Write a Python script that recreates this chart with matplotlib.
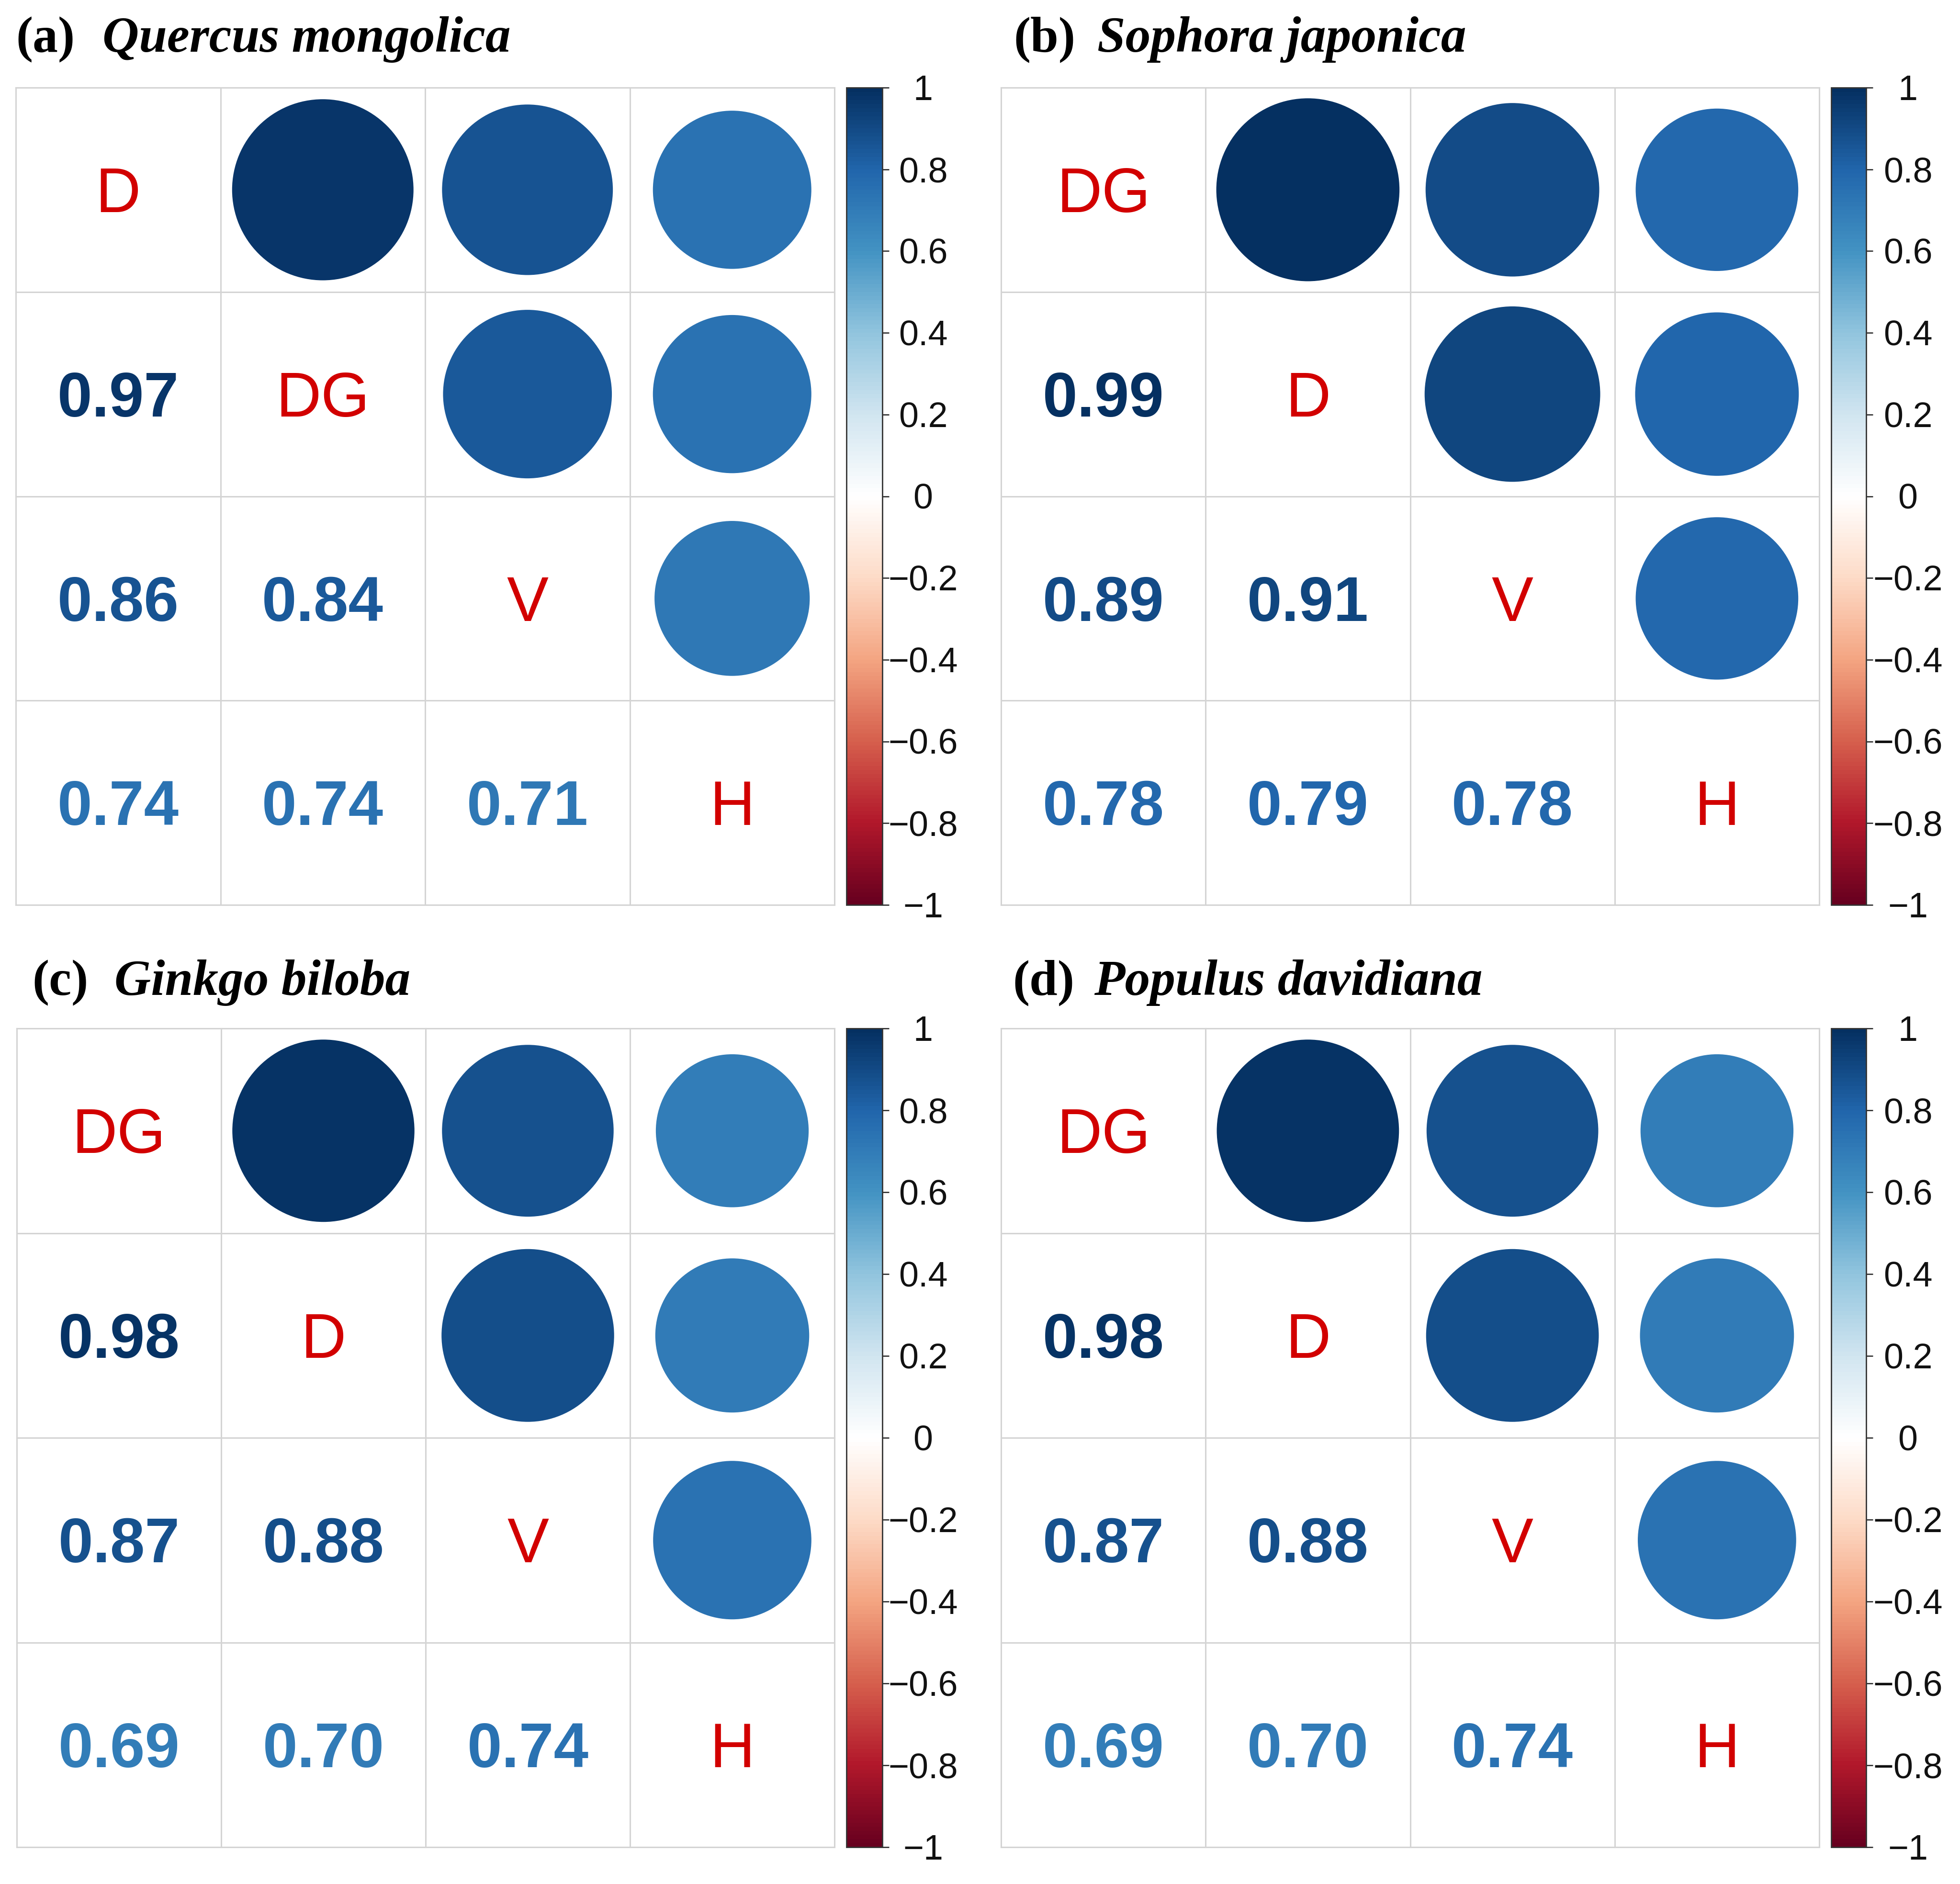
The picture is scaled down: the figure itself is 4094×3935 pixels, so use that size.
import numpy as np
import matplotlib
matplotlib.use('Agg')
import matplotlib.pyplot as plt
import matplotlib.transforms as mtransforms
from matplotlib.colors import LinearSegmentedColormap, Normalize
from matplotlib.cm import ScalarMappable
from matplotlib.patches import Circle


# panel data: diagonal labels and lower triangle r values
# order of lower values: (2,1) (3,1) (3,2) (4,1) (4,2) (4,3)
PanelTags   =  ['(a)', '(b)', '(c)', '(d)']
Species     =  ['Quercus mongolica', 'Sophora japonica', 'Ginkgo biloba', 'Populus davidiana']
VarsA       =  ['D', 'DG', 'V', 'H']
VarsB       =  ['DG', 'D', 'V', 'H']
VarsC       =  ['DG', 'D', 'V', 'H']
VarsD       =  ['DG', 'D', 'V', 'H']
CorrA       =  [0.97, 0.86, 0.84, 0.74, 0.74, 0.71]
CorrB       =  [0.99, 0.89, 0.91, 0.78, 0.79, 0.78]
CorrC       =  [0.98, 0.87, 0.88, 0.69, 0.70, 0.74]
CorrD       =  [0.98, 0.87, 0.88, 0.69, 0.70, 0.74]
CbTicks     =  [1, 0.8, 0.6, 0.4, 0.2, 0, -0.2, -0.4, -0.6, -0.8, -1]
CbLabels    =  ['1', '0.8', '0.6', '0.4', '0.2', '0', '\u22120.2', '\u22120.4', '\u22120.6', '\u22120.8', '\u22121']

AllVars     =  [VarsA, VarsB, VarsC, VarsD]
AllCorr     =  [CorrA, CorrB, CorrC, CorrD]

# corrplot RdBu palette
RdBu   =  ["#67001F", "#B2182B", "#D6604D", "#F4A582", "#FDDBC7", "#FFFFFF",
           "#D1E5F0", "#92C5DE", "#4393C3", "#2166AC", "#053061"]
cmap   =  LinearSegmentedColormap.from_list('corrRdBu', RdBu, N=200)
norm   =  Normalize(vmin=-1, vmax=1)

W, H       =  4094, 3935
gridCol    =  '#D4D4D4'
labelCol   =  '#D20000'
cellFs     =  94
cbFs       =  53
titleFs    =  76

# pixel boxes (left, top, right, bottom) of grid and colorbar
GridBox  =  [(33, 183, 1743, 1890), (2091, 183, 3800, 1890),
             (35, 2148, 1743, 3858), (2091, 2148, 3800, 3858)]
CbX      =  [(1768, 1843), (3825, 3898), (1768, 1843), (3825, 3898)]
TitlePos =  [(33, 214, 108), (2117, 2292, 108), (67, 239, 2078), (2115, 2285, 2078)]
cbLabOff =  160   # px from colorbar left edge to label centre


def PxRect (l, t, r, b):
	return [l / W, 1 - b / H, (r - l) / W, (b - t) / H]


def Mat (vals):
	M    =  np.eye(4)
	idx  =  [(1, 0), (2, 0), (2, 1), (3, 0), (3, 1), (3, 2)]
	for (i, j), v in zip(idx, vals):
		M[i, j]  =  v
		M[j, i]  =  v
	return M


fig = plt.figure(figsize=(W / 100, H / 100), dpi=100)
fig.patch.set_facecolor('white')

for p in range(4):
	l, t, r, b  =  GridBox[p]
	ax          =  fig.add_axes(PxRect(l, t, r, b))
	ax.set_xlim(0, 4)
	ax.set_ylim(0, 4)
	ax.axis('off')
	M      =  Mat(AllCorr[p])
	names  =  AllVars[p]

	for k in range(5):
		ax.plot([k, k], [0, 4], color=gridCol, lw=2.2, clip_on=False, zorder=1)
		ax.plot([0, 4], [k, k], color=gridCol, lw=2.2, clip_on=False, zorder=1)

	for i in range(4):
		for j in range(4):
			xc  =  j + 0.5
			yc  =  3 - i + 0.5
			v   =  M[i, j]
			if j > i:
				ax.add_patch(Circle((xc, yc), 0.45 * np.sqrt(abs(v)), fc=cmap(norm(v)), ec='none', zorder=2))
			else:
				tr  =  mtransforms.offset_copy(ax.transData, fig=fig, y=-0.358 * cellFs, units='points')
				if i == j:
					ax.text(xc, yc, names[i], transform=tr, ha='center', va='baseline', fontsize=cellFs,
							color=labelCol, family='Liberation Sans', zorder=3)
				else:
					ax.text(xc, yc, '{:.2f}'.format(v), transform=tr, ha='center', va='baseline', fontsize=cellFs,
							fontweight='bold', color=cmap(norm(v)), family='Liberation Sans', zorder=3)

	# colour legend
	cl, cr  =  CbX[p]
	cax     =  fig.add_axes(PxRect(cl, t, cr, b))
	sm      =  ScalarMappable(norm=norm, cmap=cmap)
	cb      =  fig.colorbar(sm, cax=cax, ticks=CbTicks)
	cb.outline.set_linewidth(2)
	cb.outline.set_edgecolor('#333333')
	cax.tick_params(axis='y', right=True, left=False, labelright=False, labelleft=False,
					length=10, width=1.8, color='#222222', direction='out')
	trb  =  mtransforms.blended_transform_factory(cax.transAxes, cax.transData)
	trb  =  mtransforms.offset_copy(trb, fig=fig, y=-0.358 * cbFs, units='points')
	cx   =  cbLabOff / (cr - cl)
	for v, s in zip(CbTicks, CbLabels):
		cax.text(cx, v, s, transform=trb, ha='center', va='baseline', fontsize=cbFs,
				 family='Liberation Sans', color='#111111', clip_on=False)

	# panel title
	x0, x1, yb  =  TitlePos[p]
	fig.text(x0 / W, 1 - yb / H, PanelTags[p], fontsize=titleFs, fontweight='bold',
			 family='Liberation Serif', va='baseline', ha='left')
	fig.text(x1 / W, 1 - yb / H, Species[p], fontsize=titleFs, fontweight='bold', style='italic',
			 family='Liberation Serif', va='baseline', ha='left')

plt.savefig('out.png', dpi=100, facecolor='white')
plt.close(fig)
